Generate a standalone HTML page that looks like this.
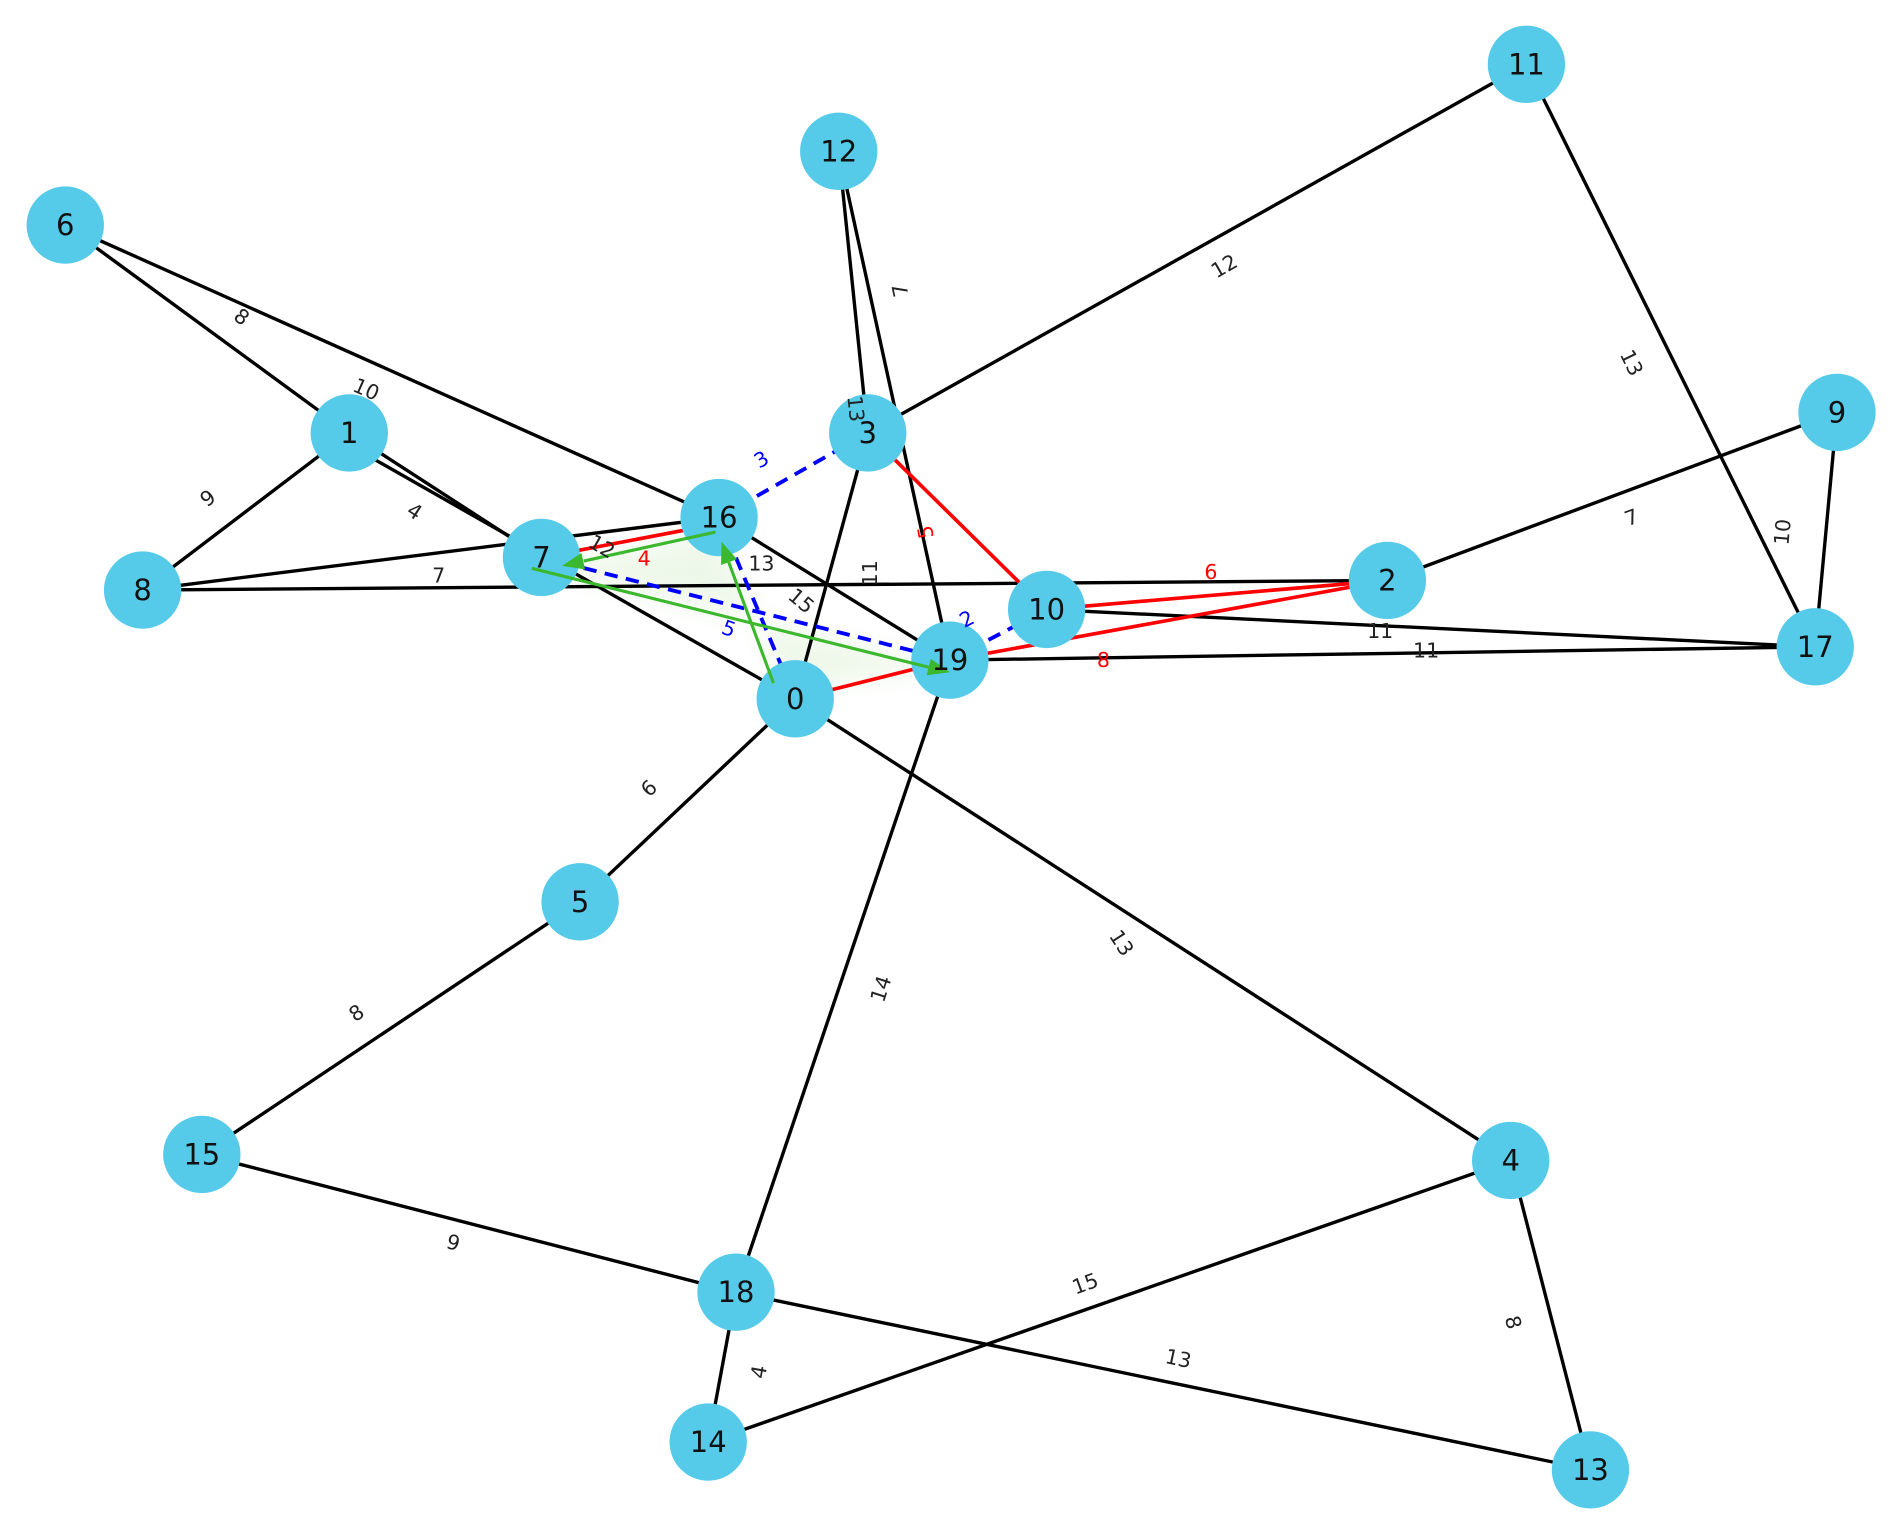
<!DOCTYPE html>
<html><head><meta charset="utf-8"><style>
html,body{margin:0;padding:0;background:#fff}
svg{display:block}
text{font-family:"DejaVu Sans","Liberation Sans",sans-serif}
.n{fill:#56cbe9}
.nl{font-size:24px;fill:#111;text-anchor:middle;dominant-baseline:central}
.el{font-size:17px;fill:#222;text-anchor:middle;dominant-baseline:central}
</style></head><body>
<svg width="1895" height="1533" viewBox="0 0 1568 1268" xmlns="http://www.w3.org/2000/svg">
<defs>
<filter id="glow" x="-20%" y="-50%" width="140%" height="200%"><feGaussianBlur stdDeviation="10"/></filter>
</defs>
<polygon points="448,470 595,440 650,570 786,552" fill="#d9efcf" opacity="0.45" filter="url(#glow)"/>
<g stroke="#000" stroke-width="2.8" fill="none">
<line x1="54" y1="186" x2="289" y2="358"/>
<line x1="54" y1="186" x2="595" y2="428"/>
<line x1="289" y1="358" x2="118" y2="488"/>
<line x1="289" y1="358" x2="448" y2="461"/>
<line x1="289" y1="368" x2="658" y2="578"/>
<line x1="118" y1="488" x2="595" y2="428"/>
<line x1="118" y1="488" x2="1148" y2="480"/>
<line x1="694" y1="125" x2="718" y2="358"/>
<line x1="694" y1="125" x2="786" y2="546"/>
<line x1="1263" y1="53" x2="718" y2="358"/>
<line x1="1263" y1="53" x2="1502" y2="535"/>
<line x1="1520" y1="341" x2="1148" y2="480"/>
<line x1="1520" y1="341" x2="1502" y2="535"/>
<line x1="718" y1="358" x2="658" y2="578"/>
<line x1="595" y1="428" x2="786" y2="546"/>
<line x1="866" y1="504" x2="1502" y2="535"/>
<line x1="786" y1="546" x2="1502" y2="535"/>
<line x1="658" y1="578" x2="480" y2="746"/>
<line x1="658" y1="578" x2="1250" y2="960"/>
<line x1="786" y1="546" x2="609" y2="1069"/>
<line x1="480" y1="746" x2="167" y2="955"/>
<line x1="167" y1="955" x2="609" y2="1069"/>
<line x1="609" y1="1069" x2="586" y2="1193"/>
<line x1="1250" y1="960" x2="586" y2="1193"/>
<line x1="609" y1="1069" x2="1316" y2="1216"/>
<line x1="1250" y1="960" x2="1316" y2="1216"/>
</g>
<g stroke="#f00" stroke-width="3" fill="none">
<line x1="718" y1="358" x2="866" y2="504"/>
<line x1="448" y1="461" x2="595" y2="433"/>
<line x1="866" y1="504" x2="1148" y2="480"/>
<line x1="658" y1="578" x2="786" y2="546"/>
<line x1="786" y1="546" x2="1148" y2="480"/>
</g>
<g stroke="#00f" stroke-width="3.2" stroke-dasharray="11,7" fill="none">
<line x1="595" y1="428" x2="718" y2="358"/>
<line x1="595" y1="428" x2="658" y2="578"/>
<line x1="448" y1="461" x2="786" y2="546"/>
<line x1="786" y1="546" x2="866" y2="504"/>
</g>
<g class="n">
<circle cx="658" cy="578" r="32"/><circle cx="289" cy="358" r="32"/><circle cx="1148" cy="480" r="32"/>
<circle cx="718" cy="358" r="32"/><circle cx="1250" cy="960" r="32"/><circle cx="480" cy="746" r="32"/>
<circle cx="54" cy="186" r="32"/><circle cx="448" cy="461" r="32"/><circle cx="118" cy="488" r="32"/>
<circle cx="1520" cy="341" r="32"/><circle cx="866" cy="504" r="32"/><circle cx="1263" cy="53" r="32"/>
<circle cx="694" cy="125" r="32"/><circle cx="1316" cy="1216" r="32"/><circle cx="586" cy="1193" r="32"/>
<circle cx="167" cy="955" r="32"/><circle cx="595" cy="428" r="32"/><circle cx="1502" cy="535" r="32"/>
<circle cx="609" cy="1069" r="32"/><circle cx="786" cy="546" r="32"/>
</g>
<g stroke="#3cb82e" stroke-width="2.6" fill="none">
<line x1="640" y1="565" x2="603" y2="465"/>
<line x1="592" y1="440" x2="483" y2="464"/>
<line x1="440" y1="470" x2="769" y2="552"/>
</g>
<g fill="#3cb82e">
<polygon points="597,448 609.8,462.5 596.6,467.3"/>
<polygon points="465,468 484.1,470.9 481.1,457.3"/>
<polygon points="786,556 766.8,558.5 770.2,544.9"/>
</g>
<g class="nl">
<text x="658" y="578">0</text><text x="289" y="358">1</text><text x="1148" y="480">2</text>
<text x="718" y="358">3</text><text x="1250" y="960">4</text><text x="480" y="746">5</text>
<text x="54" y="186">6</text><text x="448" y="461">7</text><text x="118" y="488">8</text>
<text x="1520" y="341">9</text><text x="866" y="504">10</text><text x="1263" y="53">11</text>
<text x="694" y="125">12</text><text x="1316" y="1216">13</text><text x="586" y="1193">14</text>
<text x="167" y="955">15</text><text x="595" y="428">16</text><text x="1502" y="535">17</text>
<text x="609" y="1069">18</text><text x="786" y="546">19</text>
</g>
<g class="el">
<text x="200" y="262" transform="rotate(36 200 262)">8</text>
<text x="303" y="322" transform="rotate(24 303 322)">10</text>
<text x="172" y="412" transform="rotate(-37 172 412)">9</text>
<text x="343" y="423" transform="rotate(33 343 423)">4</text>
<text x="498" y="452" transform="rotate(30 498 452)">12</text>
<text x="363" y="476">7</text>
<text x="708" y="338" transform="rotate(84 708 338)">13</text>
<text x="745" y="240" transform="rotate(-102 745 240)">7</text>
<text x="1013" y="220" transform="rotate(-30 1013 220)">12</text>
<text x="1350" y="300" transform="rotate(64 1350 300)">13</text>
<text x="1350" y="428" transform="rotate(-20 1350 428)">7</text>
<text x="1475" y="440" transform="rotate(-85 1475 440)">10</text>
<text x="720" y="474" transform="rotate(-90 720 474)">11</text>
<text x="630" y="466">13</text>
<text x="663" y="497" transform="rotate(40 663 497)">15</text>
<text x="1142" y="522">11</text>
<text x="1180" y="538">11</text>
<text x="537" y="652" transform="rotate(-43 537 652)">6</text>
<text x="928" y="780" transform="rotate(57 928 780)">13</text>
<text x="729" y="818" transform="rotate(-72 729 818)">14</text>
<text x="295" y="838" transform="rotate(-34 295 838)">8</text>
<text x="375" y="1028" transform="rotate(15 375 1028)">9</text>
<text x="628" y="1135" transform="rotate(-80 628 1135)">4</text>
<text x="898" y="1062" transform="rotate(-20 898 1062)">15</text>
<text x="975" y="1124" transform="rotate(12 975 1124)">13</text>
<text x="1252" y="1094" transform="rotate(76 1252 1094)">8</text>
</g>
<g class="el">
<text x="766" y="440" transform="rotate(-100 766 440)" style="fill:#f00">5</text>
<text x="533" y="462" style="fill:#f00">4</text>
<text x="1002" y="473" style="fill:#f00">6</text>
<text x="913" y="546" style="fill:#f00">8</text>
</g>
<g class="el">
<text x="630" y="380" transform="rotate(-30 630 380)" style="fill:#00f">3</text>
<text x="603" y="520" transform="rotate(20 603 520)" style="fill:#00f">5</text>
<text x="800" y="512" transform="rotate(-28 800 512)" style="fill:#00f">2</text>
</g>
</svg>
</body></html>
